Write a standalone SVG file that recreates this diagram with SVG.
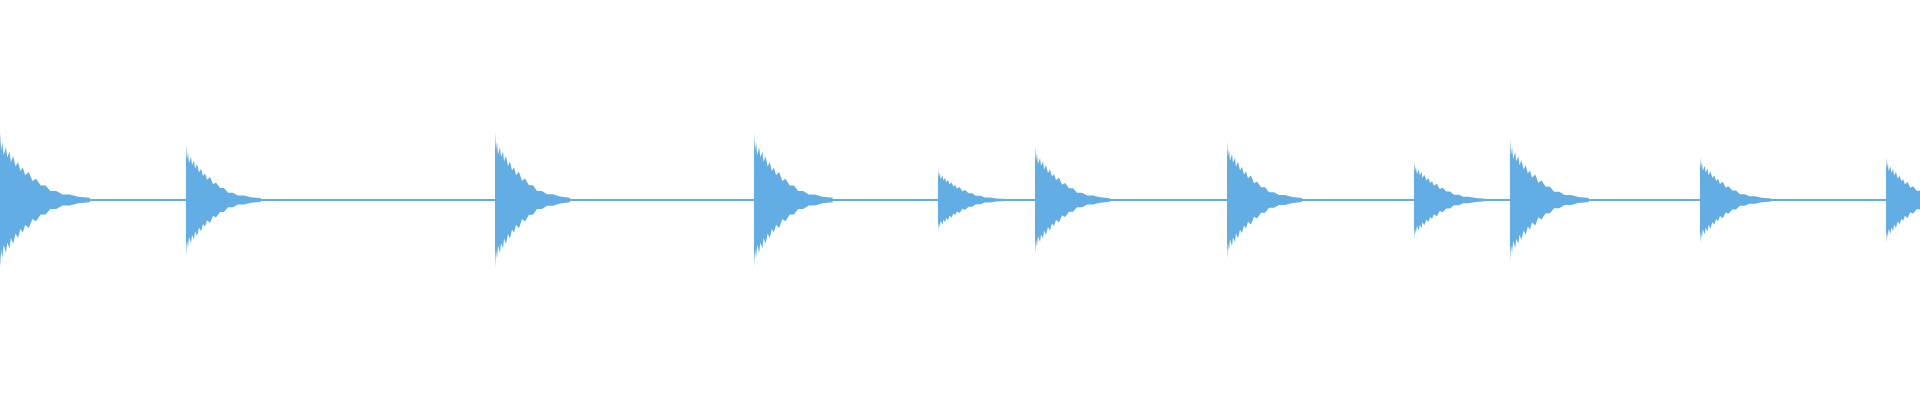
<svg xmlns="http://www.w3.org/2000/svg" width="1920" height="400" viewBox="0 0 1920 400">
<style>.w{fill:#62ade3}</style>
<defs>
<path id="hit" d="M0,-60 L1,-44 L2,-52 L3,-40 L5,-47 L6,-38 L8,-43 L9,-34 L11,-39 L13,-30 L15,-34 L17,-26 L19,-29 L21,-22 L24,-25 L27,-17 L30,-19 L34,-13 L38,-13 L42,-8 L47,-8 L52,-5 L58,-5 L65,-3 L75,-2 L75,2 L65,3 L58,5 L52,5 L47,8 L42,8 L38,13 L34,13 L30,19 L27,17 L24,25 L21,22 L19,29 L17,26 L15,34 L13,30 L11,39 L9,34 L8,43 L6,38 L5,47 L3,40 L2,52 L1,44 L0,60 Z"/>
</defs>
<g id="waveform" class="w">
<rect x="0" y="199" width="1920" height="2"/>
<g id="h1"><use href="#hit" transform="translate(0,200) scale(1.2,1.12)"/></g>
<g id="h2"><use href="#hit" transform="translate(186,200) scale(1,0.92)"/></g>
<g id="h3"><use href="#hit" transform="translate(495,200) scale(1,1.13)"/></g>
<g id="h4"><use href="#hit" transform="translate(754,200) scale(1.05,1.12)"/></g>
<g id="h5"><use href="#hit" transform="translate(938,200) scale(0.9,0.52)"/></g>
<g id="h6"><use href="#hit" transform="translate(1035,200) scale(1,0.9)"/></g>
<g id="h7"><use href="#hit" transform="translate(1227,200) scale(1,0.98)"/></g>
<g id="h8"><use href="#hit" transform="translate(1414,200) scale(0.95,0.65)"/></g>
<g id="h9"><use href="#hit" transform="translate(1510,200) scale(1.05,1.02)"/></g>
<g id="h10"><use href="#hit" transform="translate(1700,200) scale(0.95,0.73)"/></g>
<g id="h11"><use href="#hit" transform="translate(1886,200) scale(0.9,0.72)"/></g>
</g>
</svg>
